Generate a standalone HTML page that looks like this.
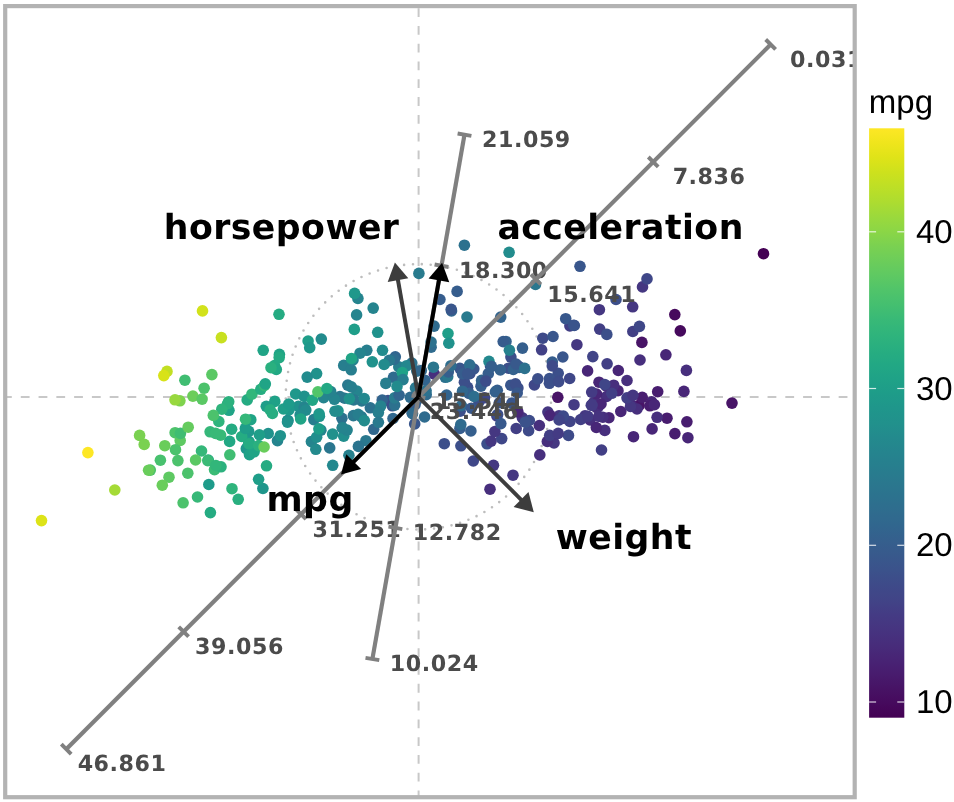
<!DOCTYPE html><html><head><meta charset="utf-8"><style>html,body{margin:0;padding:0;background:#fff;}text{text-rendering:geometricPrecision;}svg{display:block;}.tl{font-family:"DejaVu Sans","Liberation Sans",sans-serif;font-weight:bold;font-size:22.2px;fill:#4b4b4b;text-anchor:middle;letter-spacing:0.55px;}.vl{font-family:"DejaVu Sans","Liberation Sans",sans-serif;font-weight:bold;font-size:34.7px;fill:#000;text-anchor:middle;letter-spacing:0.45px;}.cb{font-family:"Liberation Sans",Arial,sans-serif;font-size:33px;fill:#000;}</style></head><body>
<svg width="954" height="802" viewBox="0 0 954 802">
<defs><clipPath id="pc"><rect x="5.2" y="6.1" width="849.5" height="791.1"/></clipPath>
<linearGradient id="cg" x1="0" y1="0" x2="0" y2="1"><stop offset="0.000" stop-color="#fde725"/><stop offset="0.025" stop-color="#efe51c"/><stop offset="0.050" stop-color="#dfe318"/><stop offset="0.075" stop-color="#cde11d"/><stop offset="0.100" stop-color="#bddf26"/><stop offset="0.125" stop-color="#addc30"/><stop offset="0.150" stop-color="#9bd93c"/><stop offset="0.175" stop-color="#8bd646"/><stop offset="0.200" stop-color="#7ad151"/><stop offset="0.225" stop-color="#6ccd5a"/><stop offset="0.250" stop-color="#5ec962"/><stop offset="0.275" stop-color="#50c46a"/><stop offset="0.300" stop-color="#44bf70"/><stop offset="0.325" stop-color="#38b977"/><stop offset="0.350" stop-color="#2fb47c"/><stop offset="0.375" stop-color="#28ae80"/><stop offset="0.400" stop-color="#22a884"/><stop offset="0.425" stop-color="#1fa287"/><stop offset="0.450" stop-color="#1e9c89"/><stop offset="0.475" stop-color="#1f968b"/><stop offset="0.500" stop-color="#21918c"/><stop offset="0.525" stop-color="#238a8d"/><stop offset="0.550" stop-color="#25848e"/><stop offset="0.575" stop-color="#277e8e"/><stop offset="0.600" stop-color="#2a788e"/><stop offset="0.625" stop-color="#2c728e"/><stop offset="0.650" stop-color="#2f6c8e"/><stop offset="0.675" stop-color="#31668e"/><stop offset="0.700" stop-color="#355f8d"/><stop offset="0.725" stop-color="#38598c"/><stop offset="0.750" stop-color="#3b528b"/><stop offset="0.775" stop-color="#3e4a89"/><stop offset="0.800" stop-color="#414487"/><stop offset="0.825" stop-color="#443b84"/><stop offset="0.850" stop-color="#463480"/><stop offset="0.875" stop-color="#472d7b"/><stop offset="0.900" stop-color="#482475"/><stop offset="0.925" stop-color="#481c6e"/><stop offset="0.950" stop-color="#471365"/><stop offset="0.975" stop-color="#460a5d"/><stop offset="1.000" stop-color="#440154"/></linearGradient></defs>
<rect width="954" height="802" fill="#fff"/>
<g clip-path="url(#pc)">
<line x1="418.6" y1="0" x2="418.6" y2="802" stroke="#c8c8c8" stroke-width="2.0" stroke-dasharray="8.8 8.98" stroke-dashoffset="-8.2"/>
<line x1="0" y1="397.1" x2="954" y2="397.1" stroke="#c8c8c8" stroke-width="2.0" stroke-dasharray="8.8 8.98" stroke-dashoffset="-3.0"/>
<circle cx="418.43" cy="396.83" r="132.7" fill="none" stroke="#bdbdbd" stroke-width="2.6" stroke-linecap="round" stroke-dasharray="0 8.894" stroke-dashoffset="-5.91"/>
<circle cx="487.0" cy="443.8" r="5.80" fill="#3c4f8a"/>
<circle cx="522.4" cy="417.8" r="5.80" fill="#453781"/>
<circle cx="460.9" cy="445.8" r="5.80" fill="#3c4f8a"/>
<circle cx="496.8" cy="415.8" r="5.80" fill="#423f85"/>
<circle cx="473.3" cy="461.0" r="5.80" fill="#3f4788"/>
<circle cx="554.0" cy="442.9" r="5.80" fill="#453781"/>
<circle cx="547.3" cy="441.5" r="5.80" fill="#472f7d"/>
<circle cx="539.8" cy="454.9" r="5.80" fill="#472f7d"/>
<circle cx="563.1" cy="418.3" r="5.80" fill="#472f7d"/>
<circle cx="493.5" cy="465.3" r="5.80" fill="#453781"/>
<circle cx="491.1" cy="441.1" r="5.80" fill="#453781"/>
<circle cx="490.0" cy="489.2" r="5.80" fill="#472f7d"/>
<circle cx="513.0" cy="475.2" r="5.80" fill="#453781"/>
<circle cx="434.4" cy="374.2" r="5.80" fill="#472f7d"/>
<circle cx="351.3" cy="398.8" r="5.80" fill="#2a788e"/>
<circle cx="426.2" cy="394.7" r="5.80" fill="#2f6b8e"/>
<circle cx="469.8" cy="373.6" r="5.80" fill="#3c4f8a"/>
<circle cx="424.9" cy="380.2" r="5.80" fill="#32648e"/>
<circle cx="287.8" cy="420.5" r="5.80" fill="#228b8d"/>
<circle cx="356.6" cy="314.9" r="5.80" fill="#25848e"/>
<circle cx="398.8" cy="366.9" r="5.80" fill="#277e8e"/>
<circle cx="353.4" cy="415.6" r="5.80" fill="#2a788e"/>
<circle cx="366.8" cy="350.3" r="5.80" fill="#277e8e"/>
<circle cx="277.5" cy="440.7" r="5.80" fill="#25848e"/>
<circle cx="417.5" cy="399.1" r="5.80" fill="#32648e"/>
<circle cx="680.3" cy="330.9" r="5.80" fill="#460a5d"/>
<circle cx="674.8" cy="314.6" r="5.80" fill="#460a5d"/>
<circle cx="641.9" cy="342.4" r="5.80" fill="#481467"/>
<circle cx="763.5" cy="253.7" r="5.80" fill="#440154"/>
<circle cx="287.8" cy="420.5" r="5.80" fill="#228b8d"/>
<circle cx="298.4" cy="406.3" r="5.80" fill="#20928c"/>
<circle cx="313.8" cy="419.6" r="5.80" fill="#277e8e"/>
<circle cx="414.7" cy="423.9" r="5.80" fill="#39568c"/>
<circle cx="555.4" cy="380.0" r="5.80" fill="#423f85"/>
<circle cx="534.4" cy="385.0" r="5.80" fill="#3f4788"/>
<circle cx="511.9" cy="403.1" r="5.80" fill="#39568c"/>
<circle cx="517.9" cy="388.0" r="5.80" fill="#3c4f8a"/>
<circle cx="590.1" cy="419.9" r="5.80" fill="#472f7d"/>
<circle cx="604.8" cy="430.4" r="5.80" fill="#472f7d"/>
<circle cx="606.6" cy="396.5" r="5.80" fill="#472f7d"/>
<circle cx="596.7" cy="407.7" r="5.80" fill="#472f7d"/>
<circle cx="674.9" cy="433.6" r="5.80" fill="#481d6f"/>
<circle cx="652.1" cy="428.9" r="5.80" fill="#482677"/>
<circle cx="687.9" cy="437.7" r="5.80" fill="#482677"/>
<circle cx="460.1" cy="411.2" r="5.80" fill="#3c4f8a"/>
<circle cx="434.1" cy="326.1" r="5.80" fill="#2f6b8e"/>
<circle cx="499.3" cy="402.8" r="5.80" fill="#39568c"/>
<circle cx="497.6" cy="414.5" r="5.80" fill="#3c4f8a"/>
<circle cx="341.9" cy="418.3" r="5.80" fill="#2c718e"/>
<circle cx="268.2" cy="433.5" r="5.80" fill="#20928c"/>
<circle cx="308.1" cy="341.0" r="5.80" fill="#1f9e89"/>
<circle cx="249.1" cy="441.6" r="5.80" fill="#1f9e89"/>
<circle cx="263.2" cy="350.3" r="5.80" fill="#20a486"/>
<circle cx="184.9" cy="380.2" r="5.80" fill="#40bd72"/>
<circle cx="321.3" cy="339.1" r="5.80" fill="#228b8d"/>
<circle cx="357.9" cy="298.4" r="5.80" fill="#25848e"/>
<circle cx="347.8" cy="385.1" r="5.80" fill="#2a788e"/>
<circle cx="343.7" cy="365.4" r="5.80" fill="#277e8e"/>
<circle cx="464.4" cy="245.2" r="5.80" fill="#2c718e"/>
<circle cx="457.1" cy="291.4" r="5.80" fill="#365d8d"/>
<circle cx="395.3" cy="356.8" r="5.80" fill="#32648e"/>
<circle cx="608.9" cy="417.7" r="5.80" fill="#482677"/>
<circle cx="602.8" cy="417.2" r="5.80" fill="#472f7d"/>
<circle cx="593.5" cy="402.7" r="5.80" fill="#453781"/>
<circle cx="598.6" cy="406.2" r="5.80" fill="#472f7d"/>
<circle cx="501.7" cy="438.6" r="5.80" fill="#3f4788"/>
<circle cx="639.1" cy="405.4" r="5.80" fill="#481467"/>
<circle cx="651.7" cy="401.9" r="5.80" fill="#482677"/>
<circle cx="657.7" cy="391.7" r="5.80" fill="#481d6f"/>
<circle cx="618.0" cy="390.7" r="5.80" fill="#482677"/>
<circle cx="392.3" cy="405.8" r="5.80" fill="#39568c"/>
<circle cx="559.0" cy="415.9" r="5.80" fill="#453781"/>
<circle cx="629.0" cy="399.2" r="5.80" fill="#482677"/>
<circle cx="665.9" cy="354.8" r="5.80" fill="#482677"/>
<circle cx="606.0" cy="385.9" r="5.80" fill="#472f7d"/>
<circle cx="467.6" cy="387.3" r="5.80" fill="#3c4f8a"/>
<circle cx="431.1" cy="347.2" r="5.80" fill="#2f6b8e"/>
<circle cx="500.7" cy="317.1" r="5.80" fill="#32648e"/>
<circle cx="353.0" cy="360.0" r="5.80" fill="#25848e"/>
<circle cx="393.5" cy="377.3" r="5.80" fill="#2f6b8e"/>
<circle cx="316.6" cy="373.6" r="5.80" fill="#20928c"/>
<circle cx="370.3" cy="407.8" r="5.80" fill="#2c718e"/>
<circle cx="287.5" cy="422.1" r="5.80" fill="#20928c"/>
<circle cx="307.2" cy="377.1" r="5.80" fill="#228b8d"/>
<circle cx="599.0" cy="382.2" r="5.80" fill="#482677"/>
<circle cx="539.3" cy="425.5" r="5.80" fill="#472f7d"/>
<circle cx="601.0" cy="404.0" r="5.80" fill="#482677"/>
<circle cx="613.7" cy="385.2" r="5.80" fill="#472f7d"/>
<circle cx="547.9" cy="412.1" r="5.80" fill="#453781"/>
<circle cx="667.0" cy="418.2" r="5.80" fill="#481d6f"/>
<circle cx="633.5" cy="436.7" r="5.80" fill="#482677"/>
<circle cx="631.5" cy="405.3" r="5.80" fill="#482677"/>
<circle cx="627.0" cy="380.5" r="5.80" fill="#472f7d"/>
<circle cx="620.8" cy="411.5" r="5.80" fill="#482677"/>
<circle cx="649.9" cy="405.8" r="5.80" fill="#481d6f"/>
<circle cx="549.9" cy="415.4" r="5.80" fill="#482677"/>
<circle cx="510.9" cy="357.1" r="5.80" fill="#3c4f8a"/>
<circle cx="569.9" cy="326.0" r="5.80" fill="#423f85"/>
<circle cx="490.5" cy="366.1" r="5.80" fill="#3c4f8a"/>
<circle cx="508.5" cy="368.2" r="5.80" fill="#3c4f8a"/>
<circle cx="426.1" cy="390.8" r="5.80" fill="#2c718e"/>
<circle cx="373.2" cy="308.1" r="5.80" fill="#25848e"/>
<circle cx="732.0" cy="403.1" r="5.80" fill="#481467"/>
<circle cx="686.9" cy="421.8" r="5.80" fill="#481d6f"/>
<circle cx="654.4" cy="404.7" r="5.80" fill="#482677"/>
<circle cx="642.2" cy="397.3" r="5.80" fill="#481d6f"/>
<circle cx="464.4" cy="382.2" r="5.80" fill="#3c4f8a"/>
<circle cx="439.9" cy="299.5" r="5.80" fill="#365d8d"/>
<circle cx="451.5" cy="310.9" r="5.80" fill="#32648e"/>
<circle cx="394.1" cy="359.4" r="5.80" fill="#2f6b8e"/>
<circle cx="388.0" cy="400.6" r="5.80" fill="#3c4f8a"/>
<circle cx="451.2" cy="309.3" r="5.80" fill="#39568c"/>
<circle cx="382.2" cy="400.1" r="5.80" fill="#32648e"/>
<circle cx="323.6" cy="397.7" r="5.80" fill="#25848e"/>
<circle cx="585.0" cy="415.8" r="5.80" fill="#453781"/>
<circle cx="516.2" cy="428.5" r="5.80" fill="#423f85"/>
<circle cx="309.7" cy="347.7" r="5.80" fill="#1f988b"/>
<circle cx="344.7" cy="398.2" r="5.80" fill="#2a788e"/>
<circle cx="412.1" cy="412.9" r="5.80" fill="#365d8d"/>
<circle cx="459.9" cy="368.3" r="5.80" fill="#39568c"/>
<circle cx="494.9" cy="431.5" r="5.80" fill="#453781"/>
<circle cx="361.5" cy="416.8" r="5.80" fill="#2a788e"/>
<circle cx="415.1" cy="404.6" r="5.80" fill="#365d8d"/>
<circle cx="557.8" cy="397.3" r="5.80" fill="#481467"/>
<circle cx="488.3" cy="373.7" r="5.80" fill="#365d8d"/>
<circle cx="473.8" cy="369.0" r="5.80" fill="#39568c"/>
<circle cx="576.9" cy="344.7" r="5.80" fill="#453781"/>
<circle cx="279.4" cy="354.4" r="5.80" fill="#20a486"/>
<circle cx="356.9" cy="391.1" r="5.80" fill="#25848e"/>
<circle cx="279.0" cy="314.3" r="5.80" fill="#25ab82"/>
<circle cx="385.8" cy="383.4" r="5.80" fill="#277e8e"/>
<circle cx="607.1" cy="363.8" r="5.80" fill="#423f85"/>
<circle cx="599.7" cy="329.1" r="5.80" fill="#423f85"/>
<circle cx="558.2" cy="373.3" r="5.80" fill="#3c4f8a"/>
<circle cx="591.3" cy="405.2" r="5.80" fill="#423f85"/>
<circle cx="683.9" cy="391.4" r="5.80" fill="#482677"/>
<circle cx="637.0" cy="409.0" r="5.80" fill="#472f7d"/>
<circle cx="686.4" cy="370.4" r="5.80" fill="#472f7d"/>
<circle cx="640.0" cy="360.0" r="5.80" fill="#472f7d"/>
<circle cx="295.7" cy="394.0" r="5.80" fill="#1f988b"/>
<circle cx="304.3" cy="407.3" r="5.80" fill="#25848e"/>
<circle cx="320.9" cy="430.2" r="5.80" fill="#25848e"/>
<circle cx="229.0" cy="410.3" r="5.80" fill="#20a486"/>
<circle cx="274.5" cy="365.6" r="5.80" fill="#25ab82"/>
<circle cx="280.3" cy="435.7" r="5.80" fill="#20928c"/>
<circle cx="339.9" cy="396.5" r="5.80" fill="#2a788e"/>
<circle cx="311.4" cy="441.6" r="5.80" fill="#25848e"/>
<circle cx="361.7" cy="401.0" r="5.80" fill="#2a788e"/>
<circle cx="334.4" cy="399.3" r="5.80" fill="#25848e"/>
<circle cx="250.8" cy="419.7" r="5.80" fill="#20a486"/>
<circle cx="510.8" cy="385.2" r="5.80" fill="#39568c"/>
<circle cx="537.8" cy="378.8" r="5.80" fill="#3c4f8a"/>
<circle cx="642.5" cy="286.9" r="5.80" fill="#453781"/>
<circle cx="599.4" cy="309.7" r="5.80" fill="#453781"/>
<circle cx="601.5" cy="450.0" r="5.80" fill="#423f85"/>
<circle cx="630.5" cy="406.4" r="5.80" fill="#453781"/>
<circle cx="627.0" cy="397.8" r="5.80" fill="#423f85"/>
<circle cx="657.1" cy="417.3" r="5.80" fill="#472f7d"/>
<circle cx="647.0" cy="278.9" r="5.80" fill="#3f4788"/>
<circle cx="632.8" cy="331.5" r="5.80" fill="#423f85"/>
<circle cx="632.7" cy="306.8" r="5.80" fill="#453781"/>
<circle cx="606.8" cy="334.4" r="5.80" fill="#3c4f8a"/>
<circle cx="446.6" cy="395.0" r="5.80" fill="#32648e"/>
<circle cx="459.9" cy="428.4" r="5.80" fill="#365d8d"/>
<circle cx="517.9" cy="411.9" r="5.80" fill="#482677"/>
<circle cx="288.9" cy="409.8" r="5.80" fill="#1f988b"/>
<circle cx="416.8" cy="371.1" r="5.80" fill="#2c718e"/>
<circle cx="462.5" cy="373.8" r="5.80" fill="#365d8d"/>
<circle cx="431.1" cy="342.0" r="5.80" fill="#2c718e"/>
<circle cx="365.9" cy="440.7" r="5.80" fill="#2a788e"/>
<circle cx="351.3" cy="386.9" r="5.80" fill="#277e8e"/>
<circle cx="389.3" cy="360.4" r="5.80" fill="#2a788e"/>
<circle cx="478.9" cy="401.8" r="5.80" fill="#3c4f8a"/>
<circle cx="246.3" cy="448.7" r="5.80" fill="#1f988b"/>
<circle cx="519.0" cy="366.5" r="5.80" fill="#39568c"/>
<circle cx="394.7" cy="405.1" r="5.80" fill="#2c718e"/>
<circle cx="445.3" cy="377.3" r="5.80" fill="#2c718e"/>
<circle cx="424.6" cy="417.0" r="5.80" fill="#2f6b8e"/>
<circle cx="342.3" cy="427.8" r="5.80" fill="#277e8e"/>
<circle cx="228.7" cy="401.7" r="5.80" fill="#2cb17e"/>
<circle cx="319.4" cy="416.3" r="5.80" fill="#20928c"/>
<circle cx="351.2" cy="369.8" r="5.80" fill="#277e8e"/>
<circle cx="358.1" cy="414.4" r="5.80" fill="#277e8e"/>
<circle cx="351.8" cy="360.0" r="5.80" fill="#25848e"/>
<circle cx="305.8" cy="410.1" r="5.80" fill="#228b8d"/>
<circle cx="568.5" cy="435.4" r="5.80" fill="#3e4a89"/>
<circle cx="580.7" cy="419.5" r="5.80" fill="#423f85"/>
<circle cx="587.8" cy="416.3" r="5.80" fill="#443b84"/>
<circle cx="598.8" cy="416.3" r="5.80" fill="#46337f"/>
<circle cx="461.4" cy="405.7" r="5.80" fill="#2f6b8e"/>
<circle cx="460.8" cy="424.5" r="5.80" fill="#2f6b8e"/>
<circle cx="447.7" cy="376.7" r="5.80" fill="#2a788e"/>
<circle cx="469.7" cy="364.9" r="5.80" fill="#2e6e8e"/>
<circle cx="354.6" cy="293.4" r="5.80" fill="#1f988b"/>
<circle cx="418.9" cy="273.4" r="5.80" fill="#297b8e"/>
<circle cx="248.5" cy="444.5" r="5.80" fill="#1f988b"/>
<circle cx="227.5" cy="403.8" r="5.80" fill="#2cb17e"/>
<circle cx="552.3" cy="362.0" r="5.80" fill="#365d8d"/>
<circle cx="616.0" cy="299.5" r="5.80" fill="#3c4f8a"/>
<circle cx="549.5" cy="378.6" r="5.80" fill="#3b528b"/>
<circle cx="542.8" cy="338.2" r="5.80" fill="#3e4a89"/>
<circle cx="208.8" cy="484.5" r="5.80" fill="#1e9b8a"/>
<circle cx="247.2" cy="399.9" r="5.80" fill="#25ab82"/>
<circle cx="304.3" cy="396.4" r="5.80" fill="#20928c"/>
<circle cx="332.7" cy="465.3" r="5.80" fill="#23888e"/>
<circle cx="481.0" cy="386.2" r="5.80" fill="#365d8d"/>
<circle cx="596.5" cy="394.0" r="5.80" fill="#482677"/>
<circle cx="580.0" cy="266.3" r="5.80" fill="#39568c"/>
<circle cx="467.6" cy="373.8" r="5.80" fill="#39568c"/>
<circle cx="592.8" cy="356.6" r="5.80" fill="#414487"/>
<circle cx="569.9" cy="421.5" r="5.80" fill="#414487"/>
<circle cx="596.3" cy="427.5" r="5.80" fill="#482677"/>
<circle cx="618.3" cy="370.5" r="5.80" fill="#482677"/>
<circle cx="587.6" cy="370.9" r="5.80" fill="#482677"/>
<circle cx="276.3" cy="369.5" r="5.80" fill="#22a884"/>
<circle cx="259.4" cy="434.8" r="5.80" fill="#1f9e89"/>
<circle cx="204.1" cy="388.2" r="5.80" fill="#4cc26c"/>
<circle cx="330.7" cy="391.5" r="5.80" fill="#26828e"/>
<circle cx="221.8" cy="409.2" r="5.80" fill="#2fb47c"/>
<circle cx="528.6" cy="430.7" r="5.80" fill="#3e4a89"/>
<circle cx="639.4" cy="326.4" r="5.80" fill="#3f4788"/>
<circle cx="592.1" cy="405.1" r="5.80" fill="#443b84"/>
<circle cx="632.9" cy="395.3" r="5.80" fill="#453781"/>
<circle cx="552.3" cy="365.9" r="5.80" fill="#3e4a89"/>
<circle cx="513.3" cy="369.5" r="5.80" fill="#34618d"/>
<circle cx="562.8" cy="357.0" r="5.80" fill="#39568c"/>
<circle cx="574.3" cy="325.5" r="5.80" fill="#3b528b"/>
<circle cx="549.7" cy="435.3" r="5.80" fill="#423f85"/>
<circle cx="558.2" cy="433.4" r="5.80" fill="#443b84"/>
<circle cx="574.0" cy="404.7" r="5.80" fill="#443b84"/>
<circle cx="611.7" cy="393.3" r="5.80" fill="#423f85"/>
<circle cx="248.7" cy="431.4" r="5.80" fill="#1f988b"/>
<circle cx="394.5" cy="397.9" r="5.80" fill="#297b8e"/>
<circle cx="360.0" cy="353.2" r="5.80" fill="#25848e"/>
<circle cx="380.7" cy="406.1" r="5.80" fill="#26828e"/>
<circle cx="274.8" cy="401.4" r="5.80" fill="#1fa187"/>
<circle cx="218.8" cy="421.5" r="5.80" fill="#2fb47c"/>
<circle cx="266.3" cy="406.3" r="5.80" fill="#1f9e89"/>
<circle cx="249.5" cy="454.7" r="5.80" fill="#1fa187"/>
<circle cx="412.5" cy="413.6" r="5.80" fill="#2f6b8e"/>
<circle cx="373.7" cy="429.3" r="5.80" fill="#31688e"/>
<circle cx="393.0" cy="418.5" r="5.80" fill="#31688e"/>
<circle cx="167.0" cy="371.4" r="5.80" fill="#c2df23"/>
<circle cx="150.3" cy="470.1" r="5.80" fill="#4ec36b"/>
<circle cx="271.0" cy="367.7" r="5.80" fill="#2ab07f"/>
<circle cx="179.9" cy="400.8" r="5.80" fill="#7fd34e"/>
<circle cx="175.1" cy="432.7" r="5.80" fill="#4ec36b"/>
<circle cx="497.3" cy="390.3" r="5.80" fill="#365d8d"/>
<circle cx="500.8" cy="423.6" r="5.80" fill="#38598c"/>
<circle cx="470.9" cy="431.0" r="5.80" fill="#355f8d"/>
<circle cx="565.7" cy="318.7" r="5.80" fill="#38588c"/>
<circle cx="506.0" cy="341.5" r="5.80" fill="#34618d"/>
<circle cx="469.0" cy="393.4" r="5.80" fill="#355f8d"/>
<circle cx="378.4" cy="412.6" r="5.80" fill="#277f8e"/>
<circle cx="519.2" cy="367.5" r="5.80" fill="#34618d"/>
<circle cx="516.1" cy="364.0" r="5.80" fill="#38598c"/>
<circle cx="495.4" cy="391.8" r="5.80" fill="#34618d"/>
<circle cx="481.6" cy="380.4" r="5.80" fill="#33638d"/>
<circle cx="573.7" cy="325.2" r="5.80" fill="#3a538b"/>
<circle cx="515.5" cy="383.9" r="5.80" fill="#3c4f8a"/>
<circle cx="471.4" cy="408.2" r="5.80" fill="#38588c"/>
<circle cx="485.8" cy="381.1" r="5.80" fill="#3d4d8a"/>
<circle cx="444.3" cy="443.7" r="5.80" fill="#3c4f8a"/>
<circle cx="563.3" cy="416.1" r="5.80" fill="#3e4a89"/>
<circle cx="283.4" cy="409.0" r="5.80" fill="#1f9e89"/>
<circle cx="316.6" cy="437.2" r="5.80" fill="#218e8d"/>
<circle cx="300.1" cy="415.0" r="5.80" fill="#228c8d"/>
<circle cx="254.1" cy="451.8" r="5.80" fill="#20a486"/>
<circle cx="399.1" cy="395.2" r="5.80" fill="#32658e"/>
<circle cx="411.8" cy="363.1" r="5.80" fill="#2c728e"/>
<circle cx="433.4" cy="367.2" r="5.80" fill="#2a768e"/>
<circle cx="353.7" cy="399.9" r="5.80" fill="#2a778e"/>
<circle cx="448.3" cy="371.9" r="5.80" fill="#355f8d"/>
<circle cx="484.5" cy="397.8" r="5.80" fill="#3f4788"/>
<circle cx="421.3" cy="370.5" r="5.80" fill="#31688e"/>
<circle cx="541.6" cy="349.8" r="5.80" fill="#424186"/>
<circle cx="229.6" cy="441.4" r="5.80" fill="#22a884"/>
<circle cx="288.8" cy="404.0" r="5.80" fill="#1e9b8a"/>
<circle cx="462.5" cy="391.2" r="5.80" fill="#31688e"/>
<circle cx="503.2" cy="341.6" r="5.80" fill="#365c8d"/>
<circle cx="450.9" cy="365.7" r="5.80" fill="#2e6d8e"/>
<circle cx="522.5" cy="348.1" r="5.80" fill="#355f8d"/>
<circle cx="500.3" cy="369.9" r="5.80" fill="#34618d"/>
<circle cx="569.7" cy="378.5" r="5.80" fill="#3f4788"/>
<circle cx="529.3" cy="420.5" r="5.80" fill="#3e4c8a"/>
<circle cx="559.1" cy="419.9" r="5.80" fill="#414487"/>
<circle cx="549.4" cy="383.3" r="5.80" fill="#3c508b"/>
<circle cx="604.8" cy="384.5" r="5.80" fill="#404688"/>
<circle cx="591.7" cy="392.1" r="5.80" fill="#443b84"/>
<circle cx="517.2" cy="393.0" r="5.80" fill="#38588c"/>
<circle cx="525.3" cy="422.2" r="5.80" fill="#3b528b"/>
<circle cx="208.3" cy="460.1" r="5.80" fill="#24aa83"/>
<circle cx="201.5" cy="451.0" r="5.80" fill="#35b779"/>
<circle cx="160.4" cy="460.2" r="5.80" fill="#48c16e"/>
<circle cx="343.7" cy="436.2" r="5.80" fill="#218e8d"/>
<circle cx="509.4" cy="350.2" r="5.80" fill="#26818e"/>
<circle cx="524.7" cy="368.4" r="5.80" fill="#2c718e"/>
<circle cx="509.1" cy="252.3" r="5.80" fill="#228c8d"/>
<circle cx="535.5" cy="284.5" r="5.80" fill="#2a778e"/>
<circle cx="197.5" cy="497.0" r="5.80" fill="#37b878"/>
<circle cx="207.8" cy="460.6" r="5.80" fill="#3aba76"/>
<circle cx="279.2" cy="357.6" r="5.80" fill="#24aa83"/>
<circle cx="169.0" cy="477.2" r="5.80" fill="#5ec962"/>
<circle cx="338.0" cy="410.8" r="5.80" fill="#1f948c"/>
<circle cx="262.9" cy="488.5" r="5.80" fill="#1f968b"/>
<circle cx="315.8" cy="449.3" r="5.80" fill="#238a8d"/>
<circle cx="232.0" cy="488.7" r="5.80" fill="#2fb47c"/>
<circle cx="114.8" cy="490.0" r="5.80" fill="#a5db36"/>
<circle cx="192.9" cy="396.1" r="5.80" fill="#6ccd5a"/>
<circle cx="241.7" cy="436.5" r="5.80" fill="#25ac82"/>
<circle cx="180.2" cy="440.5" r="5.80" fill="#5ec962"/>
<circle cx="349.4" cy="398.8" r="5.80" fill="#20928c"/>
<circle cx="406.5" cy="365.9" r="5.80" fill="#24878e"/>
<circle cx="467.0" cy="317.0" r="5.80" fill="#297a8e"/>
<circle cx="553.0" cy="336.5" r="5.80" fill="#39568c"/>
<circle cx="220.6" cy="435.1" r="5.80" fill="#38b977"/>
<circle cx="318.9" cy="428.9" r="5.80" fill="#1e9d89"/>
<circle cx="312.4" cy="400.2" r="5.80" fill="#21a685"/>
<circle cx="195.6" cy="460.0" r="5.80" fill="#5ac864"/>
<circle cx="248.9" cy="443.8" r="5.80" fill="#25ac82"/>
<circle cx="87.9" cy="452.6" r="5.80" fill="#fde725"/>
<circle cx="332.6" cy="434.1" r="5.80" fill="#21918c"/>
<circle cx="175.0" cy="399.8" r="5.80" fill="#98d83e"/>
<circle cx="163.8" cy="375.6" r="5.80" fill="#d8e219"/>
<circle cx="221.4" cy="337.6" r="5.80" fill="#c8e020"/>
<circle cx="317.9" cy="391.8" r="5.80" fill="#52c569"/>
<circle cx="448.0" cy="333.5" r="5.80" fill="#1f9e89"/>
<circle cx="41.5" cy="520.6" r="5.80" fill="#dde318"/>
<circle cx="251.9" cy="394.2" r="5.80" fill="#32b67a"/>
<circle cx="245.3" cy="428.4" r="5.80" fill="#1e9d89"/>
<circle cx="238.2" cy="499.3" r="5.80" fill="#29af7f"/>
<circle cx="329.7" cy="447.9" r="5.80" fill="#2a768e"/>
<circle cx="229.8" cy="454.8" r="5.80" fill="#40bd72"/>
<circle cx="270.1" cy="409.8" r="5.80" fill="#27ad81"/>
<circle cx="335.0" cy="411.2" r="5.80" fill="#228c8d"/>
<circle cx="364.2" cy="398.5" r="5.80" fill="#23888e"/>
<circle cx="347.1" cy="430.1" r="5.80" fill="#25838e"/>
<circle cx="358.4" cy="446.4" r="5.80" fill="#2b748e"/>
<circle cx="258.6" cy="479.3" r="5.80" fill="#1f9e89"/>
<circle cx="139.6" cy="435.4" r="5.80" fill="#7ad151"/>
<circle cx="144.2" cy="444.4" r="5.80" fill="#7ad151"/>
<circle cx="180.4" cy="433.4" r="5.80" fill="#40bd72"/>
<circle cx="260.8" cy="389.3" r="5.80" fill="#26ad81"/>
<circle cx="211.9" cy="374.6" r="5.80" fill="#5ac864"/>
<circle cx="188.2" cy="427.2" r="5.80" fill="#65cb5e"/>
<circle cx="210.1" cy="431.8" r="5.80" fill="#35b779"/>
<circle cx="214.5" cy="469.6" r="5.80" fill="#3bbb75"/>
<circle cx="215.6" cy="433.4" r="5.80" fill="#38b977"/>
<circle cx="354.3" cy="329.4" r="5.80" fill="#1f9e89"/>
<circle cx="221.0" cy="466.8" r="5.80" fill="#2cb17e"/>
<circle cx="215.9" cy="465.5" r="5.80" fill="#32b67a"/>
<circle cx="272.4" cy="413.5" r="5.80" fill="#27ad81"/>
<circle cx="258.7" cy="445.6" r="5.80" fill="#2ab07f"/>
<circle cx="326.9" cy="388.5" r="5.80" fill="#22a884"/>
<circle cx="448.8" cy="343.2" r="5.80" fill="#20928c"/>
<circle cx="402.3" cy="372.6" r="5.80" fill="#1fa287"/>
<circle cx="348.9" cy="455.3" r="5.80" fill="#26818e"/>
<circle cx="378.4" cy="422.3" r="5.80" fill="#29798e"/>
<circle cx="474.1" cy="396.5" r="5.80" fill="#2e6e8e"/>
<circle cx="489.0" cy="361.4" r="5.80" fill="#23888e"/>
<circle cx="491.4" cy="366.4" r="5.80" fill="#355f8d"/>
<circle cx="558.6" cy="381.6" r="5.80" fill="#3e4c8a"/>
<circle cx="377.7" cy="332.3" r="5.80" fill="#20928c"/>
<circle cx="382.5" cy="350.3" r="5.80" fill="#228b8d"/>
<circle cx="264.5" cy="385.5" r="5.80" fill="#35b779"/>
<circle cx="300.7" cy="419.0" r="5.80" fill="#20a486"/>
<circle cx="319.1" cy="413.8" r="5.80" fill="#1f988b"/>
<circle cx="384.1" cy="364.5" r="5.80" fill="#228b8d"/>
<circle cx="415.5" cy="387.9" r="5.80" fill="#2a788e"/>
<circle cx="175.5" cy="449.7" r="5.80" fill="#4cc26c"/>
<circle cx="202.1" cy="399.1" r="5.80" fill="#5ac864"/>
<circle cx="265.3" cy="383.9" r="5.80" fill="#20a486"/>
<circle cx="162.3" cy="485.2" r="5.80" fill="#69cd5b"/>
<circle cx="213.3" cy="415.4" r="5.80" fill="#4cc26c"/>
<circle cx="177.9" cy="460.6" r="5.80" fill="#4cc26c"/>
<circle cx="187.8" cy="473.2" r="5.80" fill="#4cc26c"/>
<circle cx="245.5" cy="419.2" r="5.80" fill="#35b779"/>
<circle cx="148.6" cy="470.2" r="5.80" fill="#69cd5b"/>
<circle cx="231.6" cy="429.2" r="5.80" fill="#25ab82"/>
<circle cx="164.8" cy="445.7" r="5.80" fill="#69cd5b"/>
<circle cx="403.0" cy="379.6" r="5.80" fill="#277e8e"/>
<circle cx="264.1" cy="447.0" r="5.80" fill="#69cd5b"/>
<circle cx="342.4" cy="427.7" r="5.80" fill="#25848e"/>
<circle cx="410.3" cy="397.3" r="5.80" fill="#2f6b8e"/>
<circle cx="266.5" cy="465.8" r="5.80" fill="#25ab82"/>
<circle cx="183.1" cy="502.8" r="5.80" fill="#4cc26c"/>
<circle cx="397.0" cy="386.4" r="5.80" fill="#228b8d"/>
<circle cx="364.3" cy="420.6" r="5.80" fill="#228b8d"/>
<circle cx="202.5" cy="310.9" r="5.80" fill="#d2e21b"/>
<circle cx="210.4" cy="512.6" r="5.80" fill="#25ab82"/>
<circle cx="372.3" cy="361.8" r="5.80" fill="#20928c"/>
<circle cx="351.5" cy="358.5" r="5.80" fill="#20a486"/>
<text class="tl" x="826.5" y="66.7">0.031</text>
<text class="tl" x="709.1" y="184.1">7.836</text>
<text class="tl" x="591.7" y="301.6">15.641</text>
<text class="tl" x="474.3" y="419.0">23.446</text>
<text class="tl" x="356.9" y="536.5">31.251</text>
<text class="tl" x="239.5" y="653.9">39.056</text>
<text class="tl" x="122.1" y="771.4">46.861</text>
<text class="tl" x="434.3" y="671.1">10.024</text>
<text class="tl" x="457.3" y="540.0">12.782</text>
<text class="tl" x="480.3" y="408.9">15.541</text>
<text class="tl" x="503.4" y="277.9">18.300</text>
<text class="tl" x="526.4" y="146.8">21.059</text>
<line x1="770.6" y1="44.5" x2="66.2" y2="749.2" stroke="#808080" stroke-width="4.2"/>
<line x1="775.6" y1="49.4" x2="765.7" y2="39.5" stroke="#808080" stroke-width="3.9"/>
<line x1="658.2" y1="166.9" x2="648.3" y2="157.0" stroke="#808080" stroke-width="3.9"/>
<line x1="540.8" y1="284.3" x2="530.9" y2="274.4" stroke="#808080" stroke-width="3.9"/>
<line x1="423.4" y1="401.8" x2="413.5" y2="391.9" stroke="#808080" stroke-width="3.9"/>
<line x1="306.0" y1="519.2" x2="296.1" y2="509.3" stroke="#808080" stroke-width="3.9"/>
<line x1="188.6" y1="636.7" x2="178.7" y2="626.8" stroke="#808080" stroke-width="3.9"/>
<line x1="71.2" y1="754.1" x2="61.3" y2="744.2" stroke="#808080" stroke-width="3.9"/>
<line x1="372.4" y1="659.0" x2="464.5" y2="134.7" stroke="#808080" stroke-width="4.2"/>
<line x1="365.5" y1="657.8" x2="379.3" y2="660.2" stroke="#808080" stroke-width="3.9"/>
<line x1="388.5" y1="526.7" x2="402.3" y2="529.1" stroke="#808080" stroke-width="3.9"/>
<line x1="411.5" y1="395.6" x2="425.3" y2="398.0" stroke="#808080" stroke-width="3.9"/>
<line x1="434.6" y1="264.5" x2="448.4" y2="267.0" stroke="#808080" stroke-width="3.9"/>
<line x1="457.6" y1="133.5" x2="471.4" y2="135.9" stroke="#808080" stroke-width="3.9"/>
<line x1="418.4" y1="396.8" x2="397.8" y2="279.1" stroke="#3d3d3d" stroke-width="4.0"/>
<polygon points="394.9,262.4 408.3,278.3 387.7,281.9" fill="#3d3d3d"/>
<line x1="418.4" y1="396.8" x2="521.8" y2="500.3" stroke="#3d3d3d" stroke-width="4.0"/>
<polygon points="533.8,512.3 513.6,507.0 528.5,492.1" fill="#3d3d3d"/>
<line x1="418.4" y1="396.8" x2="353.0" y2="462.4" stroke="#000" stroke-width="4.0"/>
<polygon points="341.0,474.4 346.3,454.2 361.1,469.1" fill="#000"/>
<line x1="418.4" y1="396.8" x2="439.1" y2="279.4" stroke="#000" stroke-width="4.0"/>
<polygon points="442.1,262.7 449.3,282.3 428.6,278.6" fill="#000"/>
<text class="vl" x="281.6" y="238.8">horsepower</text>
<text class="vl" x="620.6" y="238.8">acceleration</text>
<text class="vl" x="310.1" y="510.9">mpg</text>
<text class="vl" x="623.8" y="548.8">weight</text>
</g>
<rect x="5.2" y="6.1" width="849.5" height="791.1" fill="none" stroke="#b3b3b3" stroke-width="4.2"/>
<rect x="869.1" y="128.3" width="35.2" height="589.4" fill="url(#cg)"/>
<line x1="869.1" y1="702.0" x2="876.1" y2="702.0" stroke="#fff" stroke-opacity="0.8" stroke-width="1.2"/>
<line x1="897.3" y1="702.0" x2="904.3" y2="702.0" stroke="#fff" stroke-opacity="0.8" stroke-width="1.2"/>
<text class="cb" x="916.0" y="713.1">10</text>
<line x1="869.1" y1="545.3" x2="876.1" y2="545.3" stroke="#fff" stroke-opacity="0.8" stroke-width="1.2"/>
<line x1="897.3" y1="545.3" x2="904.3" y2="545.3" stroke="#fff" stroke-opacity="0.8" stroke-width="1.2"/>
<text class="cb" x="916.0" y="556.4">20</text>
<line x1="869.1" y1="388.5" x2="876.1" y2="388.5" stroke="#fff" stroke-opacity="0.8" stroke-width="1.2"/>
<line x1="897.3" y1="388.5" x2="904.3" y2="388.5" stroke="#fff" stroke-opacity="0.8" stroke-width="1.2"/>
<text class="cb" x="916.0" y="399.6">30</text>
<line x1="869.1" y1="231.8" x2="876.1" y2="231.8" stroke="#fff" stroke-opacity="0.8" stroke-width="1.2"/>
<line x1="897.3" y1="231.8" x2="904.3" y2="231.8" stroke="#fff" stroke-opacity="0.8" stroke-width="1.2"/>
<text class="cb" x="916.0" y="242.9">40</text>
<text class="cb" x="868.8" y="112.7">mpg</text>
</svg></body></html>
